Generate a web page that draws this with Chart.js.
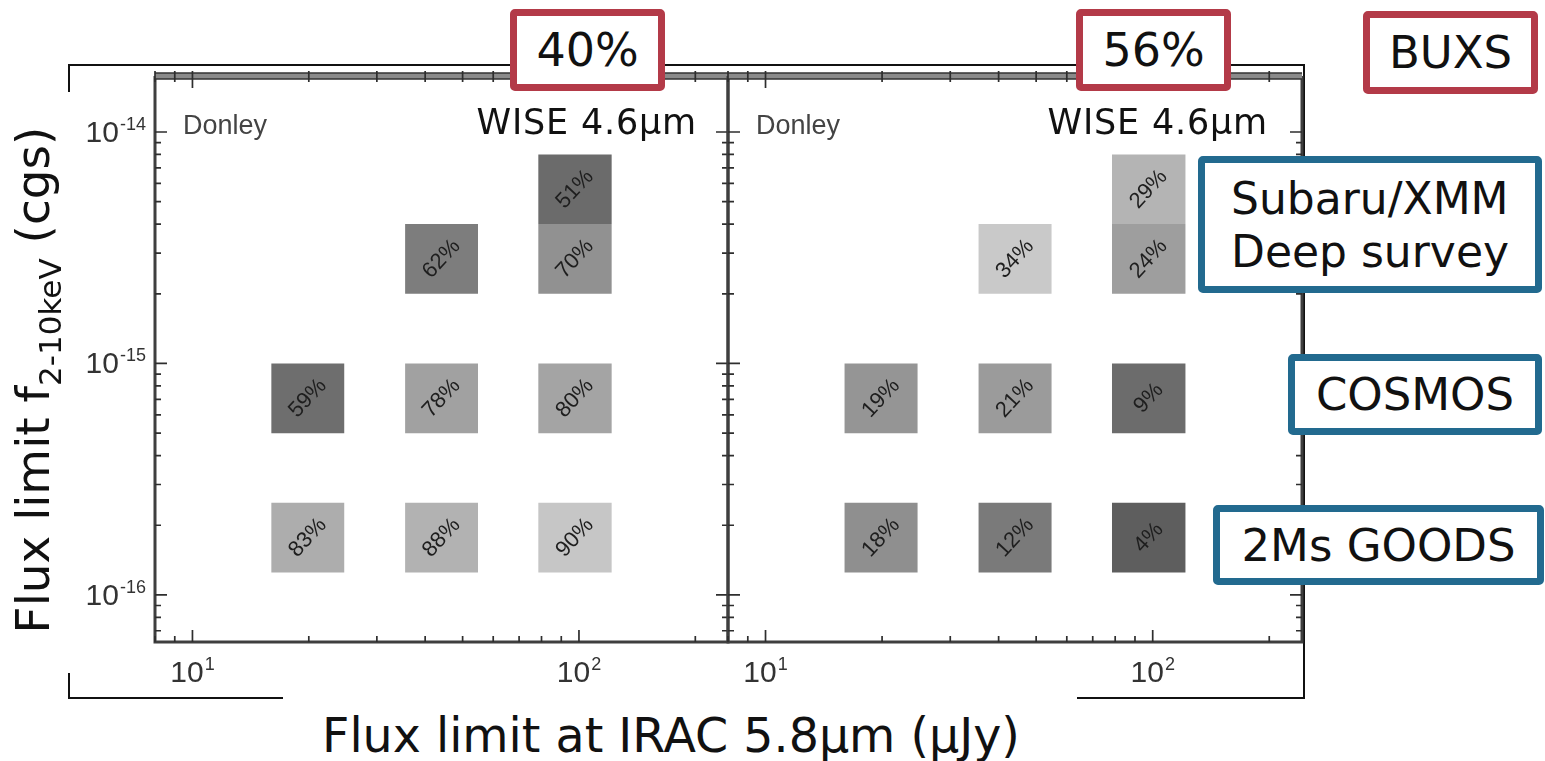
<!DOCTYPE html>
<html>
<head>
<meta charset="utf-8">
<script src="https://cdn.jsdelivr.net/npm/chart.js@4.4.1/dist/chart.umd.min.js"></script>
<style>
  html, body { margin: 0; padding: 0; background: #fff; }
  #wrap { position: relative; width: 1545px; height: 761px; overflow: hidden; font-family: "DejaVu Sans", sans-serif; color: #111; }
  canvas { position: absolute; left: 0; top: 0; filter: blur(0.5px); }
  #leftChart { z-index: 1; }
  #rightChart { z-index: 2; }
  .frame { position: absolute; left: 68px; top: 64px; width: 1237px; height: 635px; box-sizing: border-box; border: 2px solid #111; z-index: 0; }
  .mask { position: absolute; background: #fff; z-index: 3; }
  .label { position: absolute; white-space: nowrap; z-index: 4; }
  .box { position: absolute; box-sizing: border-box; border: 7px solid; border-radius: 5px; background: #fff; z-index: 5;
         display: flex; align-items: center; justify-content: center; white-space: nowrap; }
  .red { border-color: #b33a48; }
  .blue { border-color: #226a8f; }
</style>
</head>
<body>
<div id="wrap">
  <div class="frame"></div>
  <canvas id="leftChart" width="1545" height="761"></canvas>
  <canvas id="rightChart" width="1545" height="761"></canvas>

  <div class="mask" style="left:6px;top:92px;width:68px;height:581px;"></div>
  <div class="mask" style="left:283px;top:689px;width:794px;height:72px;"></div>

  <div class="label" style="left:35px;top:380px;font-size:47px;line-height:47px;transform:translate(-50%,-50%) rotate(-90deg);">Flux limit f<span style="font-size:31px;position:relative;top:12px;">2-10keV</span> (cgs)</div>
  <div class="label" style="left:671px;top:712px;font-size:47.5px;line-height:47px;transform:translateX(-50%);">Flux limit at IRAC 5.8μm (μJy)</div>

  <div class="label" style="right:848px;top:105px;font-size:35px;line-height:35px;letter-spacing:0.8px;">WISE 4.6μm</div>
  <div class="label" style="right:277px;top:105px;font-size:35px;line-height:35px;letter-spacing:0.8px;">WISE 4.6μm</div>

  <div class="box red" style="left:510px;top:9px;width:155px;height:82px;font-size:46px;" id="boxLeft"></div>
  <div class="box red" style="left:1076px;top:9px;width:155px;height:82px;font-size:46px;" id="boxRight"></div>
  <div class="box red" style="left:1363px;top:11px;width:175px;height:83px;font-size:45px;">BUXS</div>
  <div class="box blue" style="left:1198px;top:156px;width:344px;height:137px;font-size:44px;line-height:53px;">
    <div style="text-align:left;">Subaru/XMM<br>Deep survey</div>
  </div>
  <div class="box blue" style="left:1288px;top:354px;width:254px;height:81px;font-size:45px;">COSMOS</div>
  <div class="box blue" style="left:1213px;top:505px;width:331px;height:80px;font-size:45px;">2Ms GOODS</div>
</div>

<script>
// column bins: IRAC 5.8um flux limit (uJy)
const iracLo = [16, 35.5, 78.5];
const iracHi = [24.7, 54.8, 121.5];
// row bins: 2-10 keV flux limit (cgs) -> 2Ms GOODS, COSMOS, Subaru/XMM, BUXS
const xrayLo = [1.25e-16, 5e-16, 2e-15, 4e-15];
const xrayHi = [2.5e-16, 1e-15, 4e-15, 8e-15];

// left panel: Donley selection
const leftCol = [0, 1, 2, 0, 1, 2, 1, 2, 2];
const leftRow = [0, 0, 0, 1, 1, 1, 2, 2, 3];
const leftPct = [83, 88, 90, 59, 78, 80, 62, 70, 51];

// right panel: WISE 4.6um
const rightCol = [0, 1, 2, 0, 1, 2, 1, 2, 2];
const rightRow = [0, 0, 0, 1, 1, 1, 2, 2, 3];
const rightPct = [18, 12, 4, 19, 21, 9, 34, 24, 29];

// overall fractions shown above each panel
const totals = [40, 56];

// axis ranges
const xRange = [8, 243];
const yRange = [6.26e-17, 1.746e-14];

// cell shading
const leftGray = ['#adadad', '#b2b2b2', '#c6c6c6', '#6e6e6e', '#a1a1a1', '#a4a4a4', '#7d7d7d', '#919191', '#6b6b6b'];
const rightGray = ['#8f8f8f', '#7a7a7a', '#5e5e5e', '#959595', '#9b9b9b', '#6c6c6c', '#c9c9c9', '#9e9e9e', '#b4b4b4'];

document.getElementById('boxLeft').textContent = totals[0] + '%';
document.getElementById('boxRight').textContent = totals[1] + '%';

function cellDatasets(cols, rows, pcts, grays) {
  return pcts.map(function(p, i) {
    const x0 = iracLo[cols[i]], x1 = iracHi[cols[i]];
    const y0 = xrayLo[rows[i]], y1 = xrayHi[rows[i]];
    return {
      label: p + '%',
      pct: p,
      data: [{x: x0, y: y0}, {x: x1, y: y0}, {x: x1, y: y1}, {x: x0, y: y1}, {x: x0, y: y0}],
      showLine: true,
      fill: 'shape',
      backgroundColor: grays[i],
      borderColor: grays[i],
      borderWidth: 0,
      pointRadius: 0,
      tension: 0
    };
  });
}

function isPow10(v) {
  const l = Math.log10(v);
  return Math.abs(l - Math.round(l)) < 1e-6;
}

function tickValues(range) {
  const out = [];
  const lo = Math.floor(Math.log10(range[0])), hi = Math.ceil(Math.log10(range[1]));
  for (let e = lo; e <= hi; e++) {
    for (let m = 1; m <= 9; m++) {
      const v = m * Math.pow(10, e);
      if (v >= range[0] && v <= range[1]) out.push(v);
    }
  }
  return out;
}

function powLabel(ctx, exp, x, y, align) {
  // "10" with a raised exponent; y is the baseline
  ctx.font = '30px "Liberation Sans", Arial, sans-serif';
  const wBase = ctx.measureText('10').width;
  ctx.font = '18px "Liberation Sans", Arial, sans-serif';
  const wExp = ctx.measureText(String(exp)).width;
  const total = wBase + wExp + 1;
  let start = align === 'right' ? x - total : x - total / 2;
  ctx.textAlign = 'left';
  ctx.textBaseline = 'alphabetic';
  ctx.font = '30px "Liberation Sans", Arial, sans-serif';
  ctx.fillText('10', start, y);
  ctx.font = '18px "Liberation Sans", Arial, sans-serif';
  ctx.fillText(String(exp), start + wBase + 1, y - 12);
}

const panelAxes = {
  id: 'panelAxes',
  afterDatasetsDraw(chart, args, opts) {
    const ctx = chart.ctx;
    const a = chart.chartArea;
    const x = chart.scales.x, y = chart.scales.y;
    ctx.save();

    // percentages in the cells
    ctx.fillStyle = '#1e1e1e';
    ctx.font = '22px "Liberation Sans", Arial, sans-serif';
    ctx.textAlign = 'center';
    ctx.textBaseline = 'middle';
    chart.data.datasets.forEach(function(ds) {
      const d = ds.data;
      const cx = x.getPixelForValue(Math.sqrt(d[0].x * d[1].x));
      const cy = y.getPixelForValue(Math.sqrt(d[0].y * d[2].y));
      ctx.save();
      ctx.translate(cx, cy);
      ctx.rotate(-47 * Math.PI / 180);
      ctx.fillText(ds.pct + '%', 0, 0);
      ctx.restore();
    });

    // frame
    ctx.strokeStyle = '#3f3f3f';
    ctx.lineWidth = 3;
    ctx.beginPath();
    ctx.moveTo(a.left, a.top); ctx.lineTo(a.left, a.bottom); ctx.lineTo(a.right, a.bottom); ctx.lineTo(a.right, a.top);
    ctx.stroke();
    ctx.fillStyle = '#8a8a8a';
    ctx.fillRect(a.left, a.top - 3, a.right - a.left, 6);
    ctx.lineWidth = 1.5;
    ctx.strokeStyle = '#333';
    ctx.beginPath();
    ctx.moveTo(a.left, a.top - 3); ctx.lineTo(a.right, a.top - 3);
    ctx.moveTo(a.left, a.top + 3); ctx.lineTo(a.right, a.top + 3);
    ctx.stroke();

    // inward ticks on all four sides
    ctx.strokeStyle = '#2e2e2e';
    ctx.lineWidth = 1.7;
    ctx.beginPath();
    tickValues(xRange).forEach(function(v) {
      const px = x.getPixelForValue(v);
      const len = isPow10(v) ? 12 : 6;
      ctx.moveTo(px, a.bottom); ctx.lineTo(px, a.bottom - len);
      ctx.moveTo(px, a.top - 5); ctx.lineTo(px, a.top + len);
    });
    tickValues(yRange).forEach(function(v) {
      const py = y.getPixelForValue(v);
      const len = isPow10(v) ? 12 : 6;
      ctx.moveTo(a.left, py); ctx.lineTo(a.left + len, py);
      ctx.moveTo(a.right, py); ctx.lineTo(a.right - len, py);
    });
    ctx.stroke();

    // tick labels
    ctx.fillStyle = '#333';
    tickValues(xRange).filter(isPow10).forEach(function(v) {
      powLabel(ctx, Math.round(Math.log10(v)), x.getPixelForValue(v), a.bottom + 40, 'center');
    });
    if (opts.yLabels) {
      tickValues(yRange).filter(isPow10).forEach(function(v) {
        powLabel(ctx, Math.round(Math.log10(v)), a.left - 9, y.getPixelForValue(v) + 10, 'right');
      });
    }

    // panel tag
    ctx.fillStyle = '#444';
    ctx.font = '27px "Liberation Sans", Arial, sans-serif';
    ctx.textAlign = 'left';
    ctx.textBaseline = 'alphabetic';
    ctx.fillText(opts.tag, a.left + 28, 134);

    ctx.restore();
  }
};

function makePanel(id, datasets, padding, yLabels) {
  return new Chart(document.getElementById(id).getContext('2d'), {
    type: 'scatter',
    data: { datasets: datasets },
    options: {
      responsive: false,
      animation: false,
      events: [],
      layout: { padding: padding },
      scales: {
        x: { type: 'logarithmic', min: xRange[0], max: xRange[1], display: false },
        y: { type: 'logarithmic', min: yRange[0], max: yRange[1], display: false }
      },
      plugins: {
        legend: { display: false },
        tooltip: { enabled: false },
        panelAxes: { yLabels: yLabels, tag: 'Donley' }
      }
    },
    plugins: [panelAxes]
  });
}

makePanel('leftChart', cellDatasets(leftCol, leftRow, leftPct, leftGray),
  { left: 155, right: 817, top: 76, bottom: 119 }, true);
makePanel('rightChart', cellDatasets(rightCol, rightRow, rightPct, rightGray),
  { left: 728, right: 243, top: 76, bottom: 119 }, false);
</script>
</body>
</html>
